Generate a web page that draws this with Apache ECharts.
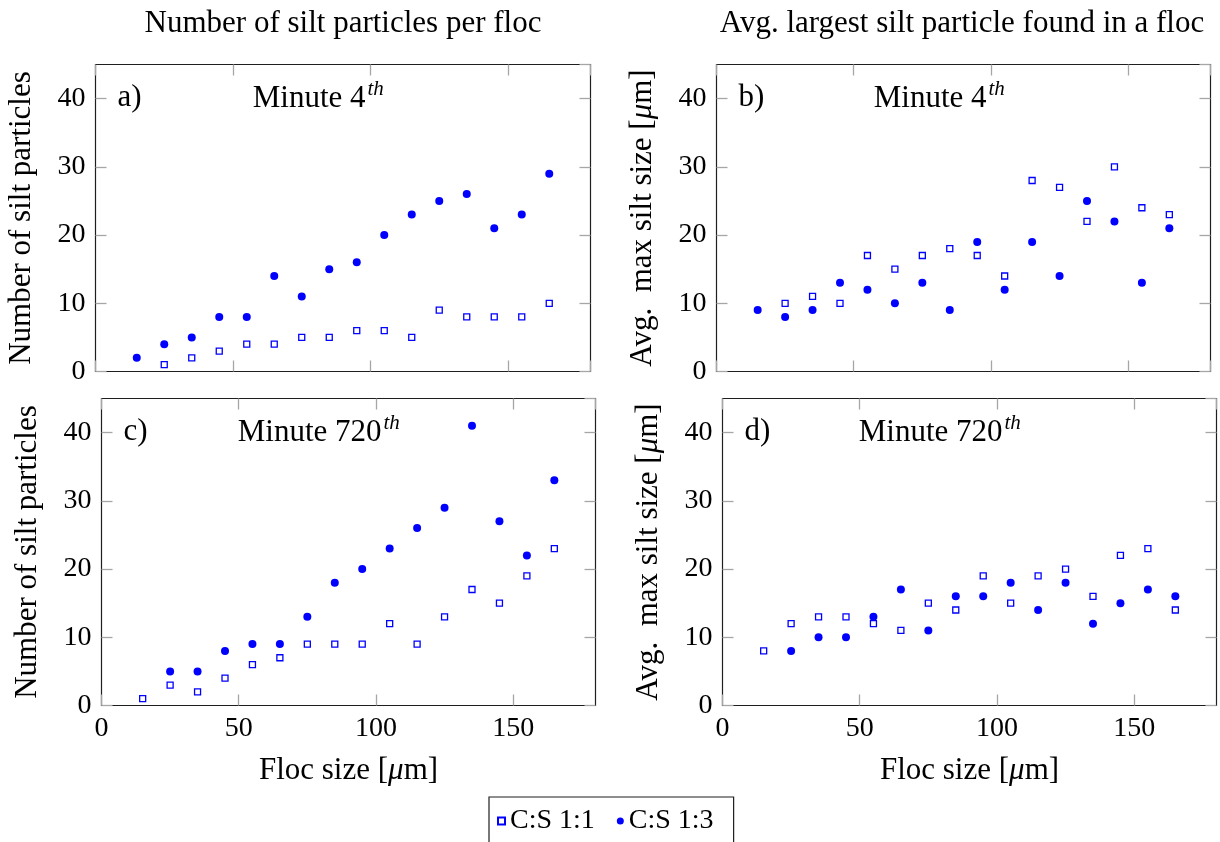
<!DOCTYPE html>
<html>
<head>
<meta charset="utf-8">
<title>Silt particles in flocs</title>
<script src="https://cdn.jsdelivr.net/npm/echarts@6/dist/echarts.min.js"></script>
<style>
  html, body { margin: 0; padding: 0; background: #ffffff; }
  #chart { width: 1220px; height: 842px; }
</style>
</head>
<body>
<div id="chart"></div>
<script>
// Floc size classes [µm]
const flocSize = [15, 25, 35, 45, 55, 65, 75, 85, 95, 105, 115, 125, 135, 145, 155, 165];

// a) number of silt particles per floc, minute 4
const countMin4CS11 = [null, 1, 2, 3, 4, 4, 5, 5, 6, 6, 5, 9, 8, 8, 8, 10];
const countMin4CS13 = [2, 4, 5, 8, 8, 14, 11, 15, 16, 20, 23, 25, 26, 21, 23, 29];
// b) average largest silt particle [µm], minute 4
const sizeMin4CS11 = [null, 10, 11, 10, 17, 15, 17, 18, 17, 14, 28, 27, 22, 30, 24, 23];
const sizeMin4CS13 = [9, 8, 9, 13, 12, 10, 13, 9, 19, 12, 19, 14, 25, 22, 13, 21];
// c) number of silt particles per floc, minute 720
const countMin720CS11 = [1, 3, 2, 4, 6, 7, 9, 9, 9, 12, 9, 13, 17, 15, 19, 23];
const countMin720CS13 = [null, 5, 5, 8, 9, 9, 13, 18, 20, 23, 26, 29, 41, 27, 22, 33];
// d) average largest silt particle [µm], minute 720
const sizeMin720CS11 = [8, 12, 13, 13, 12, 11, 15, 14, 19, 15, 19, 20, 16, 22, 23, 14];
const sizeMin720CS13 = [null, 8, 10, 10, 13, 17, 11, 16, 16, 18, 14, 18, 12, 15, 17, 16];

const seriesNames = ['C:S 1:1', 'C:S 1:3'];
const columnTitles = ['Number of silt particles per floc', 'Avg. largest silt particle found in a floc'];
const panelTags = ['a)', 'b)', 'c)', 'd)'];
const panelMinutes = ['4', '4', '720', '720'];

const FONT = '"Liberation Serif", "DejaVu Serif", serif';
const TEXT_SIZE = 31;
const TICK_SIZE = 28;
const BLUE = '#0000ff';
const FRAME = '#1f1f1f';
const TICK = '#a6a6a6';

// panel boxes in pixels (half-pixel edges keep the 1px frame crisp)
const panels = [
  { left: 95.5,  top: 64.5,  width: 495, height: 307 },
  { left: 716.5, top: 64.5,  width: 494, height: 307 },
  { left: 101.5, top: 398.5, width: 494, height: 307 },
  { left: 722.5, top: 398.5, width: 494, height: 307 }
];

const panelData = [
  [countMin4CS11, countMin4CS13],
  [sizeMin4CS11, sizeMin4CS13],
  [countMin720CS11, countMin720CS13],
  [sizeMin720CS11, sizeMin720CS13]
];

function pairs(values) {
  const out = [];
  values.forEach((v, i) => { if (v !== null) out.push([flocSize[i], v]); });
  return out;
}

const countName = 'Number of silt particles';
const sizeName = 'Avg.  max silt size [{i|μ}m]';
const flocName = 'Floc size [{i|μ}m]';
const nameRich = { i: { fontFamily: FONT, fontStyle: 'italic', fontSize: TEXT_SIZE, color: '#000' } };

const grid = [], xAxis = [], yAxis = [], series = [];

panels.forEach((p, k) => {
  // the box frame comes from the grid border
  grid.push({
    left: p.left, top: p.top, width: p.width, height: p.height, containLabel: false,
    show: true, borderColor: FRAME, borderWidth: 1.2, backgroundColor: 'transparent'
  });
  const bottomRow = k >= 2;
  const leftCol = k % 2 === 0;
  const hiddenLine = { show: false, onZero: false };
  const tickCfg = { show: true, inside: true, length: 11, lineStyle: { color: TICK, width: 1.3 } };
  // bottom x axis
  xAxis.push({
    gridIndex: k, type: 'value', position: 'bottom', min: 0, max: 180, interval: 50,
    axisLine: hiddenLine, axisTick: tickCfg, splitLine: { show: false },
    axisLabel: { show: bottomRow, margin: 9, fontFamily: FONT, fontSize: TICK_SIZE, color: '#000', showMaxLabel: false },
    name: bottomRow ? flocName : '', nameLocation: 'middle', nameGap: 50,
    nameTextStyle: { fontFamily: FONT, fontSize: TEXT_SIZE, color: '#000', rich: nameRich }
  });
  // mirrored top x axis (ticks only)
  xAxis.push({
    gridIndex: k, type: 'value', position: 'top', min: 0, max: 180, interval: 50,
    axisLine: hiddenLine, axisTick: tickCfg, splitLine: { show: false }, axisLabel: { show: false }
  });
  // left y axis
  yAxis.push({
    gridIndex: k, type: 'value', position: 'left', min: 0, max: 45, interval: 10,
    axisLine: hiddenLine, axisTick: tickCfg, splitLine: { show: false },
    axisLabel: { show: true, margin: 10, fontFamily: FONT, fontSize: TICK_SIZE, color: '#000', showMaxLabel: false },
    name: leftCol ? countName : sizeName, nameLocation: 'middle', nameGap: 58,
    nameTextStyle: { fontFamily: FONT, fontSize: TEXT_SIZE, color: '#000', rich: nameRich }
  });
  // mirrored right y axis (ticks only)
  yAxis.push({
    gridIndex: k, type: 'value', position: 'right', min: 0, max: 45, interval: 10,
    axisLine: hiddenLine, axisTick: tickCfg, splitLine: { show: false }, axisLabel: { show: false }
  });

  series.push({
    name: seriesNames[0], type: 'scatter', xAxisIndex: 2 * k, yAxisIndex: 2 * k,
    symbol: 'rect', symbolSize: 6,
    itemStyle: { color: '#ffffff', borderColor: BLUE, borderWidth: 1.3, opacity: 1 },
    data: pairs(panelData[k][0]), z: 3
  });
  series.push({
    name: seriesNames[1], type: 'scatter', xAxisIndex: 2 * k, yAxisIndex: 2 * k,
    symbol: 'circle', symbolSize: 8,
    itemStyle: { color: BLUE, opacity: 1 },
    data: pairs(panelData[k][1]), z: 4
  });
});

// column headings, panel tags and minute captions
const graphic = [];
columnTitles.forEach((t, c) => {
  const p = panels[c];
  graphic.push({
    type: 'text', x: p.left + p.width / 2 - (c === 1 ? 1.5 : 0), y: 24,
    style: { text: t, font: TEXT_SIZE + 'px ' + FONT, fill: '#000', textAlign: 'center', textVerticalAlign: 'middle' }
  });
});
panels.forEach((p, k) => {
  graphic.push({
    type: 'text', x: p.left + 22, y: p.top + 33,
    style: { text: panelTags[k], font: TEXT_SIZE + 'px ' + FONT, fill: '#000', textAlign: 'left', textVerticalAlign: 'middle' }
  });
  const endX = p.left + (panelMinutes[k] === '4' ? 270 : 280);
  graphic.push({
    type: 'text', x: endX, y: p.top + 34,
    style: { text: 'Minute ' + panelMinutes[k], font: TEXT_SIZE + 'px ' + FONT, fill: '#000', textAlign: 'right', textVerticalAlign: 'middle' }
  });
  graphic.push({
    type: 'text', x: endX + 2, y: p.top + 25,
    style: { text: 'th', font: 'italic 21px ' + FONT, fill: '#000', textAlign: 'left', textVerticalAlign: 'middle' }
  });
});

const chart = echarts.init(document.getElementById('chart'), null, { renderer: 'canvas' });
chart.setOption({
  animation: false,
  backgroundColor: '#ffffff',
  grid, xAxis, yAxis, series, graphic,
  legend: {
    data: seriesNames, left: 489, top: 797, orient: 'horizontal',
    itemWidth: 7, itemHeight: 7, itemGap: 22,
    padding: [10, 20, 40, 8],
    borderColor: FRAME, borderWidth: 1.2, borderRadius: 0,
    textStyle: { fontFamily: FONT, fontSize: 28, color: '#000' }
  }
});
</script>
</body>
</html>
